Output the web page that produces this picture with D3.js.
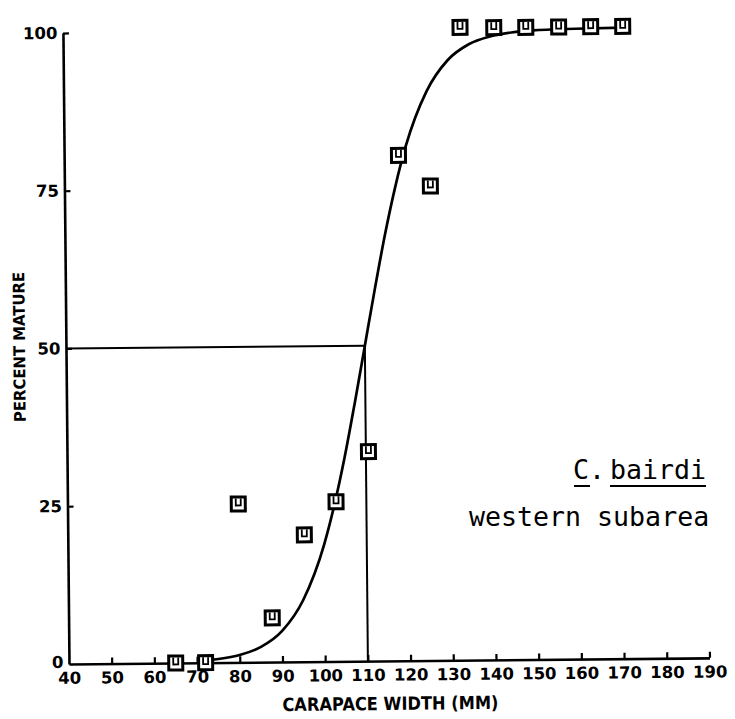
<!DOCTYPE html>
<html>
<head>
<meta charset="utf-8">
<script src="https://cdn.jsdelivr.net/npm/d3@7"></script>
<style>
  html, body { margin: 0; padding: 0; background: #fff; }
  svg { display: block; }
  .tick text { font-family: "DejaVu Sans", sans-serif; font-weight: bold; fill: #000; }
</style>
</head>
<body>
<svg id="chart" width="735" height="719"></svg>
<script>
// Axis ticks
const xTicks = [40, 50, 60, 70, 80, 90, 100, 110, 120, 130, 140, 150, 160, 170, 180, 190];
const yTicks = [0, 25, 50, 75, 100];

// Observed proportion mature by carapace-width class
const widthClass = [65, 72, 80, 87.7, 95.4, 102.9, 110.6, 118.3, 125.7, 133, 140.9, 148.4, 156.1, 163.6, 171.1];
const pctMature  = [0, 0, 25.1, 7, 20.1, 25.3, 33.2, 80.1, 75.2, 100.3, 100.2, 100.2, 100.2, 100.2, 100.2];

// Fitted maturity curve
const curveWidth = [70, 75, 80, 85, 90, 95, 100, 102.5, 105, 107.5, 110, 112.5, 115, 117.5, 120, 125, 130, 135, 140, 145, 150, 160, 171.1];
const curvePct   = [0.27, 0.56, 1.17, 2.42, 4.93, 9.79, 18.5, 24.8, 32.3, 40.9, 50, 59.1, 67.7, 75.2, 81.5, 90.2, 95.1, 97.6, 98.8, 99.4, 99.7, 99.9, 100];

// Width at 50% maturity
const width50 = 110;
const pct50 = 50;

const svg = d3.select("#chart");

const x = d3.scaleLinear().domain([40, 190]).range([69, 709.5]);
const y = d3.scaleLinear().domain([0, 100]).range([664, 33]);

// the plotted frame sits slightly skewed on the page
const g = svg.append("g").attr("transform", "rotate(-0.55, 69, 664)");

// x axis
const xAxis = g.append("g")
  .attr("transform", `translate(0,${y(0)})`)
  .call(d3.axisBottom(x).tickValues(xTicks).tickSize(-6).tickSizeOuter(0).tickPadding(8));
xAxis.select(".domain").attr("stroke", "#000").attr("stroke-width", 2.6);
xAxis.selectAll(".tick line").attr("stroke", "#000").attr("stroke-width", 2.2);
xAxis.selectAll(".tick text").attr("font-size", 16.5);
xAxis.selectAll(".tick").filter(d => d === 40).select("line").remove();

// y axis
const yAxis = g.append("g")
  .attr("transform", `translate(${x(40)},0)`)
  .call(d3.axisLeft(y).tickValues(yTicks).tickSize(-6).tickSizeOuter(0).tickPadding(5.5));
yAxis.select(".domain").attr("stroke", "#000").attr("stroke-width", 2.6);
yAxis.selectAll(".tick line").attr("stroke", "#000").attr("stroke-width", 2.2);
yAxis.selectAll(".tick text").attr("font-size", 16.5);
yAxis.selectAll(".tick").filter(d => d === 0).select("line").remove();
yAxis.selectAll(".tick").filter(d => d === 0).select("text").attr("dy", "0.2em");

// axis titles
g.append("text")
  .attr("x", 282).attr("y", 713)
  .attr("textLength", 216).attr("lengthAdjust", "spacingAndGlyphs")
  .attr("font-family", "DejaVu Sans, sans-serif").attr("font-weight", "bold")
  .attr("font-size", 18)
  .text("CARAPACE WIDTH (MM)");

g.append("text")
  .attr("transform", "translate(28,346.5) rotate(-90)")
  .attr("text-anchor", "middle")
  .attr("textLength", 150).attr("lengthAdjust", "spacingAndGlyphs")
  .attr("font-family", "DejaVu Sans, sans-serif").attr("font-weight", "bold")
  .attr("font-size", 16)
  .text("PERCENT MATURE");

// 50% reference lines
g.append("line")
  .attr("x1", x(40)).attr("y1", y(pct50))
  .attr("x2", x(width50)).attr("y2", y(pct50))
  .attr("stroke", "#000").attr("stroke-width", 2);
g.append("line")
  .attr("x1", x(width50)).attr("y1", y(0))
  .attr("x2", x(width50)).attr("y2", y(pct50))
  .attr("stroke", "#000").attr("stroke-width", 2);

// fitted curve
const line = d3.line()
  .x((d, i) => x(curveWidth[i]))
  .y(d => y(d))
  .curve(d3.curveMonotoneX);
g.append("path")
  .attr("d", line(curvePct))
  .attr("fill", "none")
  .attr("stroke", "#000")
  .attr("stroke-width", 2.7);

// observed points: square plotter symbols
const pts = g.selectAll(".pt")
  .data(widthClass.map((w, i) => ({ w, p: pctMature[i] })))
  .join("g")
  .attr("class", "pt")
  .attr("transform", d => `translate(${x(d.w)},${y(d.p)})`);
pts.append("rect")
  .attr("x", -7).attr("y", -7)
  .attr("width", 14).attr("height", 14)
  .attr("fill", "#fff")
  .attr("stroke", "#000").attr("stroke-width", 3);
pts.append("path")
  .attr("d", "M-2.5,-5.5 V1.5 H2.5 V-5.5")
  .attr("fill", "none")
  .attr("stroke", "#000").attr("stroke-width", 1.8);

// species annotation
const mono = "DejaVu Sans Mono, monospace";
svg.append("text")
  .attr("x", 573).attr("y", 479)
  .attr("font-family", mono).attr("font-size", 26.6)
  .attr("fill", "#000")
  .text("C.");
svg.append("text")
  .attr("x", 610).attr("y", 479)
  .attr("font-family", mono).attr("font-size", 26.6)
  .attr("fill", "#000")
  .text("bairdi");
svg.append("line")
  .attr("x1", 574).attr("x2", 590).attr("y1", 486).attr("y2", 486)
  .attr("stroke", "#000").attr("stroke-width", 2);
svg.append("line")
  .attr("x1", 610).attr("x2", 706).attr("y1", 486).attr("y2", 486)
  .attr("stroke", "#000").attr("stroke-width", 2);

svg.append("text")
  .attr("x", 469).attr("y", 526)
  .attr("font-family", mono).attr("font-size", 26.6)
  .attr("fill", "#000")
  .text("western subarea");
</script>
</body>
</html>
